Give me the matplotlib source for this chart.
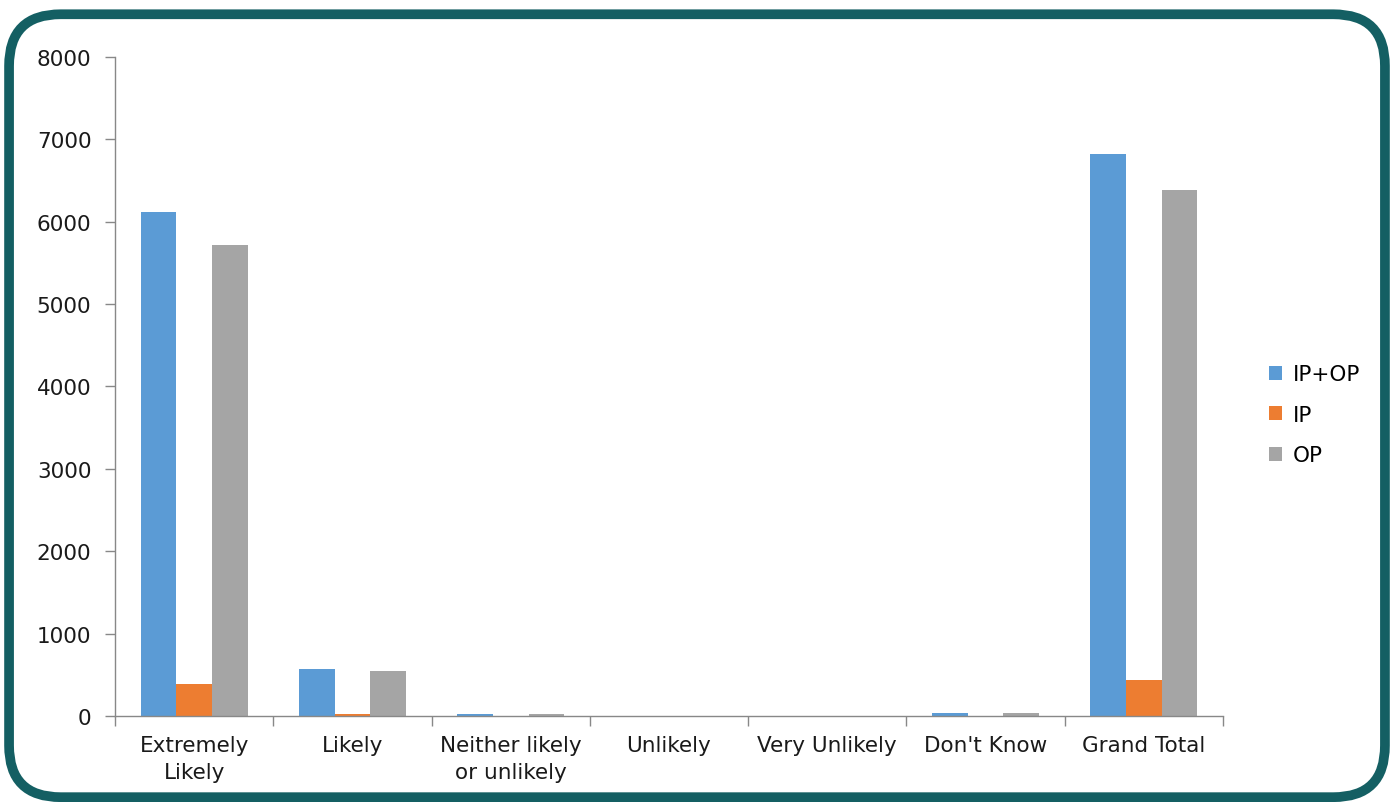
import matplotlib
matplotlib.use("Agg")
import matplotlib.pyplot as plt
from matplotlib.patches import FancyBboxPatch
import numpy as np

categories = ["Extremely\nLikely", "Likely", "Neither likely\nor unlikely", "Unlikely",
              "Very Unlikely", "Don't Know", "Grand Total"]
ip_op = [6120, 570, 30, 0, 0, 40, 6820]
ip = [390, 20, 0, 0, 0, 0, 440]
op = [5720, 550, 30, 0, 0, 40, 6380]
series_names = ["IP+OP", "IP", "OP"]
colors = ["#5b9bd5", "#ed7d31", "#a5a5a5"]

plt.rcParams['font.family'] = ['DejaVu Sans']
fig = plt.figure(figsize=(13.94, 8.03), dpi=100)

# rounded border
border = FancyBboxPatch((0.0065, 0.006), 0.987, 0.975,
                        boxstyle="round,pad=0,rounding_size=0.037",
                        transform=fig.transFigure, facecolor="none",
                        edgecolor="#145f63", linewidth=7, mutation_aspect=1394/803,
                        zorder=10)
fig.patches.append(border)

ax = fig.add_axes([0.0825, 0.1071, 0.7948, 0.8207])
x = np.arange(len(categories))
w = 0.225
for i, (vals, name, c) in enumerate(zip([ip_op, ip, op], series_names, colors)):
    ax.bar(x + (i - 1) * w, vals, width=w, color=c, label=name)

ax.set_xlim(-0.5, len(categories) - 0.5)
ax.set_ylim(0, 8000)
ax.set_yticks(np.arange(0, 8001, 1000))
ax.set_xticks(x)
ax.set_xticklabels(categories, fontsize=15.5, color="#1a1a1a", linespacing=1.4)
ax.set_xticks(np.arange(-0.5, len(categories), 1), minor=True)
ax.tick_params(axis='x', which='major', length=0, pad=14)
ax.tick_params(axis='x', which='minor', length=7, color="#888888", width=1)
ax.tick_params(axis='y', length=7, color="#888888", width=1, labelsize=15.5, labelcolor="#1a1a1a", pad=10)
for s in ["top", "right"]:
    ax.spines[s].set_visible(False)
for s in ["left", "bottom"]:
    ax.spines[s].set_color("#888888")
    ax.spines[s].set_linewidth(1)
ax.set_facecolor("none")

leg = ax.legend(loc="center left", bbox_to_anchor=(1.024, 0.457), frameon=False,
                fontsize=15.5, handlelength=0.6, handleheight=0.6, labelspacing=0.95,
                handletextpad=0.5)

fig.savefig("out.png", dpi=100, facecolor="white")
